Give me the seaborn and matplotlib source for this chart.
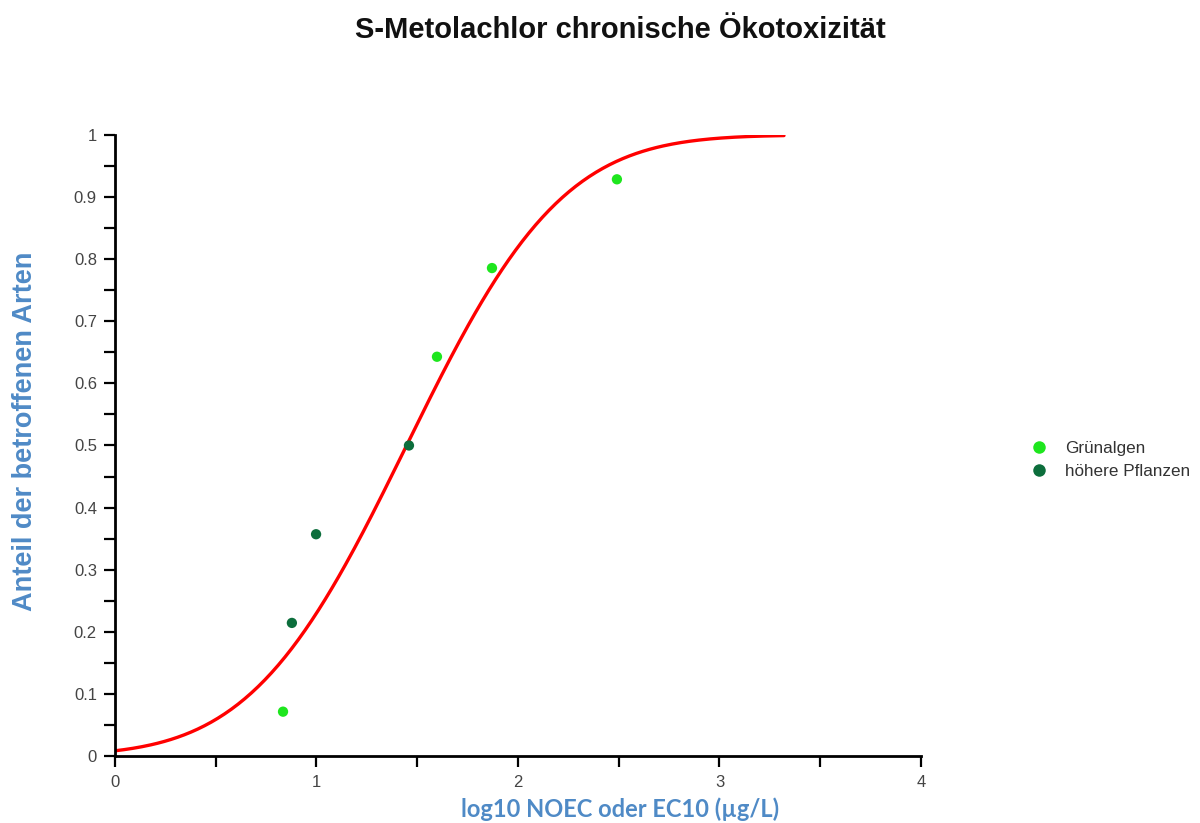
import math
import numpy as np
import pandas as pd
import matplotlib
matplotlib.use("Agg")
import matplotlib.pyplot as plt
from matplotlib.ticker import MultipleLocator, FuncFormatter
import seaborn as sns

# Species sensitivity data: log10 NOEC/EC10 and cumulative fraction
groups = ["Grünalgen", "höhere Pflanzen", "höhere Pflanzen", "höhere Pflanzen",
          "Grünalgen", "Grünalgen", "Grünalgen"]
log_noec = [0.834, 0.878, 0.998, 1.459, 1.598, 1.871, 2.491]
fraction = [0.0714, 0.2143, 0.3571, 0.5, 0.6429, 0.7857, 0.9286]

# Fitted log-normal distribution (on log10 scale)
fit_mean = 1.447
fit_sd = 0.605
curve_x = np.linspace(0.0, 3.32, 300)
curve_y = [0.5 * (1 + math.erf((v - fit_mean) / (fit_sd * math.sqrt(2)))) for v in curve_x]

group_colors = {"Grünalgen": "#1ee61e", "höhere Pflanzen": "#0c6e3c"}
label_blue = "#4f8ac6"

sns.set_theme(style="white")
plt.rcParams["font.family"] = ["Liberation Sans", "DejaVu Sans"]

fig = plt.figure(figsize=(12, 8.23), dpi=100)
ax = fig.add_axes([0.0958, 0.0814, 0.6717, 0.7546])

df_pts = pd.DataFrame({"x": log_noec, "y": fraction, "Gruppe": groups})
df_curve = pd.DataFrame({"x": curve_x, "y": curve_y})

sns.lineplot(data=df_curve, x="x", y="y", ax=ax, color="#ff0000", linewidth=2.4, zorder=2)
sns.scatterplot(data=df_pts, x="x", y="y", hue="Gruppe", palette=group_colors,
                hue_order=["Grünalgen", "höhere Pflanzen"], s=55, edgecolor="none",
                ax=ax, zorder=3, legend=False)

ax.set_xlim(0, 4)
ax.set_ylim(0, 1)
ax.xaxis.set_major_locator(MultipleLocator(1))
ax.xaxis.set_minor_locator(MultipleLocator(0.5))
ax.yaxis.set_major_locator(MultipleLocator(0.1))
ax.yaxis.set_minor_locator(MultipleLocator(0.05))
ax.yaxis.set_major_formatter(FuncFormatter(lambda v, _: f"{round(v, 1):g}"))
ax.xaxis.set_major_formatter(FuncFormatter(lambda v, _: f"{round(v):d}"))
ax.tick_params(axis="both", which="both", direction="out", color="black", width=1.6,
               length=8, labelsize=12, labelcolor="#444444")
ax.tick_params(axis="x", which="both", bottom=True, pad=6)
ax.tick_params(axis="y", which="both", left=True, pad=5)

for side in ("top", "right"):
    ax.spines[side].set_visible(False)
for side in ("left", "bottom"):
    ax.spines[side].set_color("black")
    ax.spines[side].set_linewidth(2)

ax.set_xlabel("log10 NOEC oder EC10 (µg/L)", fontsize=17, fontweight="bold",
              color=label_blue, family=["Lato", "DejaVu Sans"])
ax.xaxis.set_label_coords(0.627, -0.066)
ax.set_ylabel("Anteil der betroffenen Arten", fontsize=19.5, fontweight="bold",
              color=label_blue)
ax.yaxis.set_label_coords(-0.0955, 0.523)

fig.text(0.517, 0.963, "S-Metolachlor chronische Ökotoxizität", ha="center", va="center",
         fontsize=21, fontweight="bold", color="#111111")

handles = [plt.Line2D([], [], marker="o", linestyle="none", markersize=9,
                      markerfacecolor=group_colors[g], markeredgecolor="none", label=g)
           for g in ["Grünalgen", "höhere Pflanzen"]]
fig.legend(handles=handles, loc="center left", bbox_to_anchor=(0.846, 0.441),
           frameon=False, fontsize=12.3, handletextpad=1.0, labelspacing=0.5,
           labelcolor="#333333", handlelength=1.0)

fig.savefig("out.png", dpi=100)
